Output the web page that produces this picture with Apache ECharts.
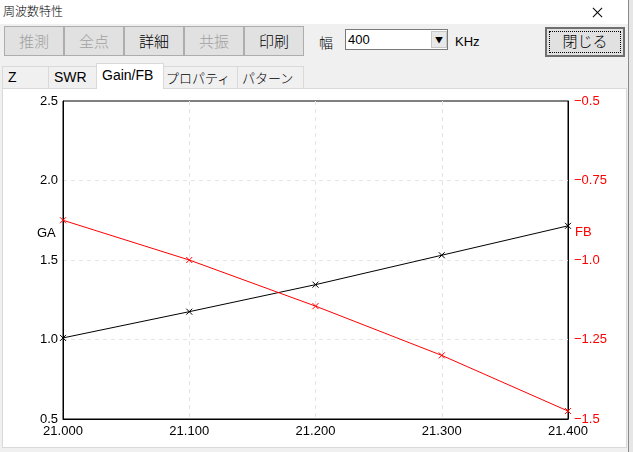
<!DOCTYPE html>
<html>
<head>
<meta charset="utf-8">
<script src="https://cdn.jsdelivr.net/npm/echarts@6/dist/echarts.min.js"></script>
<style>
  html, body { margin:0; padding:0; width:633px; height:452px; overflow:hidden; background:#f0f0f0;
    font-family:"Noto Sans CJK JP","Liberation Sans",sans-serif; }
  .abs { position:absolute; box-sizing:border-box; }
  #titlebar { left:0; top:0; width:628px; height:24px; background:#fff; }
  #title { left:3px; top:3px; font-size:12px; color:#000; line-height:16px; font-weight:300; }
  .xl { width:13px; height:1px; background:#000; left:591px; top:12px; }
  .btn { height:30px; top:26px; background:#e1e1e1; border:1px solid #adadad; font-size:15px; line-height:27px; text-align:center; color:#000; font-weight:300; }
  .dis { color:#a0a0a0; }
  #combo { left:345px; top:29px; width:103px; height:21px; background:#fff; border:1px solid #7a7a7a; }
  #comboTxt { left:2px; top:0; font-size:13px; line-height:19px; font-family:"Liberation Sans",sans-serif; }
  #comboBtn { left:85px; top:1px; width:16px; height:17px; background:#e8e8e8; border:1px solid #c8c8c8; font-size:8px; text-align:center; line-height:16px; }
  .lbl { font-size:14px; line-height:18px; color:#000; font-weight:300; }
  .tab { top:66px; height:23px; background:#f0f0f0; border:1px solid #d9d9d9; border-bottom:none; font-size:14px; line-height:21px; padding-left:5px; color:#000; font-family:"Liberation Sans","Noto Sans CJK JP",sans-serif; }
  .tab.active { top:63px; height:26px; background:#fff; z-index:2; line-height:22px; }
  .jp { font-family:'Noto Sans CJK JP',sans-serif; font-size:13px; font-weight:300; }
  #panel { left:2px; top:88px; width:625px; height:360px; background:#fff; border:1px solid #d9d9d9; }
  #chart { position:absolute; left:0; top:0; width:623px; height:358px; }
  #edge { left:628px; top:0; width:1px; height:452px; background:#8a8a8a; }
  #edge2 { left:629px; top:0; width:4px; height:452px; background:#e6e6e6; }
</style>
</head>
<body>
<div class="abs" id="titlebar"></div>
<div class="abs" id="title">周波数特性</div>
<div class="abs xl" style="transform:rotate(45deg);"></div>
<div class="abs xl" style="transform:rotate(-45deg);"></div>

<div class="abs btn dis" style="left:4px;width:60px;">推測</div>
<div class="abs btn dis" style="left:64px;width:60px;">全点</div>
<div class="abs btn" style="left:124px;width:60px;">詳細</div>
<div class="abs btn dis" style="left:184px;width:60px;">共振</div>
<div class="abs btn" style="left:244px;width:60px;">印刷</div>
<div class="abs lbl" style="left:319px;top:33px;">幅</div>
<div class="abs" id="combo"><div class="abs" id="comboTxt">400</div><div class="abs" id="comboBtn">▼</div></div>
<div class="abs lbl" style="left:455px;top:33px;font-family:'Liberation Sans',sans-serif;font-size:13px;">KHz</div>
<div class="abs btn" style="left:545px;top:27px;width:80px;height:30px;border:2px solid #707070;line-height:24px;">
  <div class="abs" style="left:2px;top:2px;width:72px;height:22px;border:1px dotted #000;"></div>閉じる</div>

<div class="abs tab" style="left:2px;width:47px;">Z</div>
<div class="abs tab" style="left:48px;width:49px;">SWR</div>
<div class="abs tab active" style="left:96px;width:68px;">Gain/FB</div>
<div class="abs tab jp" style="left:163px;width:75px;padding-left:2px;">プロパティ</div>
<div class="abs tab jp" style="left:237px;width:67px;padding-left:4px;">パターン</div>

<div class="abs" id="panel"><div id="chart"></div></div>
<div class="abs" id="edge"></div>
<div class="abs" id="edge2"></div>

<script>
// Data
const freqs = [21.0, 21.1, 21.2, 21.3, 21.4];       // MHz
const gaValues = [1.01, 1.175, 1.345, 1.53, 1.715];   // GA (left axis)
const fbValues = [-0.875, -1.0, -1.145, -1.30, -1.475]; // FB (right axis)
const leftAxisName = 'GA';
const rightAxisName = 'FB';

const xMark = 'path://M0 0L10 10M10 0L0 10';
const font = '"Liberation Sans", Arial, sans-serif';

function fmtRight(v) {
  let s = Math.abs(v).toString();
  if (s.indexOf('.') < 0) s += '.0';
  return (v < 0 ? '\u2212' : '') + s;
}

const splitStyle = { show: true, showMinLine: false, showMaxLine: false, lineStyle: { color: '#e4e4e4', type: [4, 4], width: 1 } };

const chart = echarts.init(document.getElementById('chart'), null, { renderer: 'canvas' });
chart.setOption({
  animation: false,
  backgroundColor: '#fff',
  grid: { left: 60, right: 58, top: 12, bottom: 28, show: true, borderColor: '#000', borderWidth: 1, backgroundColor: '#fff' },
  xAxis: {
    type: 'value', min: 21.0, max: 21.4, interval: 0.1,
    axisLine: { show: true, lineStyle: { color: '#000', width: 1 } },
    axisTick: { show: false },
    axisLabel: { color: '#000', fontSize: 13, fontFamily: font, margin: 6, formatter: v => v.toFixed(3) },
    splitLine: splitStyle
  },
  yAxis: [
    {
      type: 'value', min: 0.5, max: 2.5, interval: 0.5, position: 'left',
      axisLine: { show: true, lineStyle: { color: '#000', width: 1 } },
      axisTick: { show: false },
      axisLabel: { color: '#000', fontSize: 13, fontFamily: font, margin: 5, formatter: v => v.toFixed(1) },
      splitLine: splitStyle
    },
    {
      type: 'value', min: -1.5, max: -0.5, interval: 0.25, position: 'right',
      axisLine: { show: true, lineStyle: { color: '#000', width: 1 } },
      axisTick: { show: false },
      axisLabel: { color: '#ff0000', fontSize: 13, fontFamily: font, margin: 6, formatter: fmtRight },
      splitLine: { show: false }
    }
  ],
  graphic: [
    { type: 'text', left: 34, top: 138, style: { text: leftAxisName, fill: '#000', font: '13px ' + font } },
    { type: 'text', left: 572, top: 137, style: { text: rightAxisName, fill: '#ff0000', font: '13px ' + font } }
  ],
  series: [
    {
      name: 'GA', type: 'line', yAxisIndex: 0,
      data: freqs.map((f, i) => [f, gaValues[i]]),
      lineStyle: { color: '#000', width: 1 },
      symbol: xMark, symbolSize: 6,
      itemStyle: { color: '#000', borderColor: '#000', borderWidth: 1 },
      emphasis: { disabled: true }, clip: true
    },
    {
      name: 'FB', type: 'line', yAxisIndex: 1,
      data: freqs.map((f, i) => [f, fbValues[i]]),
      lineStyle: { color: '#ff0000', width: 1 },
      symbol: xMark, symbolSize: 6,
      itemStyle: { color: '#ff0000', borderColor: '#ff0000', borderWidth: 1 },
      emphasis: { disabled: true }, clip: true
    }
  ]
});
</script>
</body>
</html>
